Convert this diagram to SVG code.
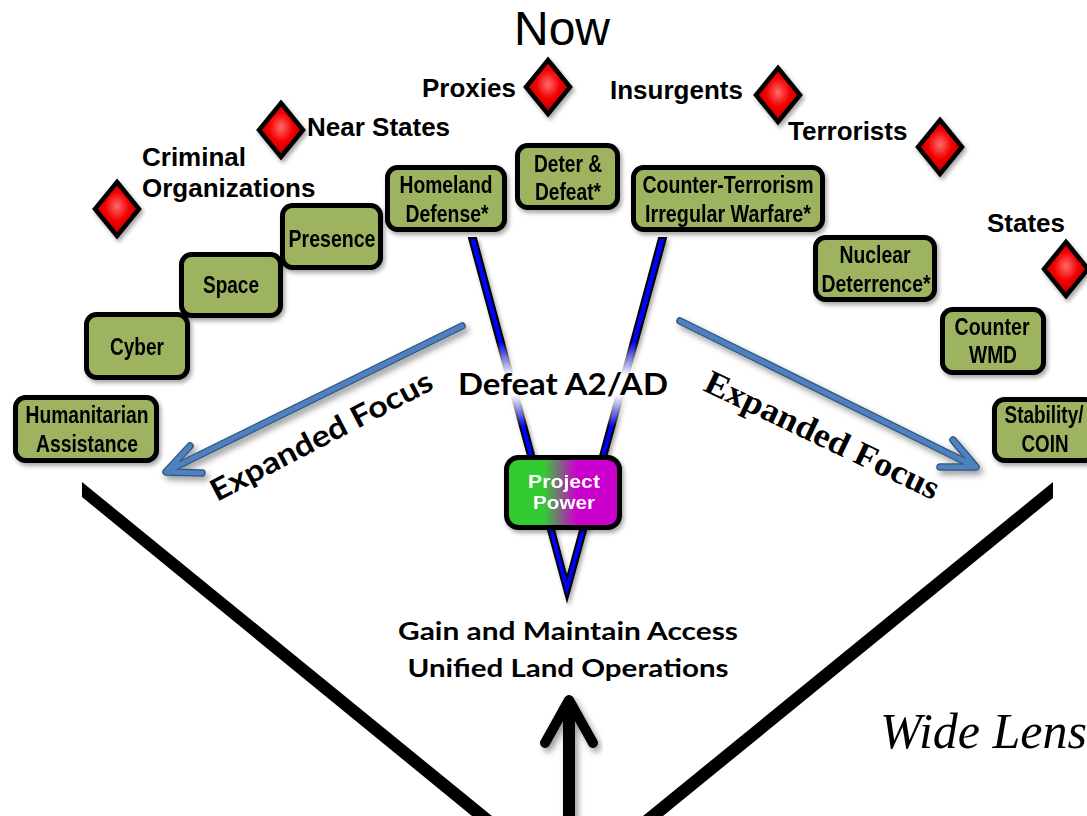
<svg xmlns="http://www.w3.org/2000/svg" width="1087" height="816" viewBox="0 0 1087 816">
<defs>
<style>
.box rect{fill:#9db35f;stroke:#000;stroke-width:5}
.bt{font-family:"Liberation Sans Narrow","Liberation Sans",Arial,sans-serif;font-weight:bold;font-size:23px;fill:#000;text-anchor:middle}
.lab{font-family:"Liberation Sans",Arial,sans-serif;font-weight:bold;font-size:26px;fill:#000}
.cal{font-family:Lato,"Open Sans",sans-serif;font-weight:bold;fill:#000}
.dia{fill:url(#red);stroke:#000;stroke-width:4.5;stroke-linejoin:miter}
.blue{fill:none;stroke:#4f81bd;stroke-width:5;stroke-linecap:round;stroke-linejoin:round}
.blueo{fill:none;stroke:#2f5584;stroke-width:7.5;stroke-linecap:round;stroke-linejoin:round}
</style>
<filter id="sh" x="-20%" y="-20%" width="140%" height="140%"><feDropShadow dx="2" dy="3" stdDeviation="2" flood-color="#000" flood-opacity="0.35"/></filter>
<filter id="sh2" x="-20%" y="-20%" width="140%" height="140%"><feDropShadow dx="3" dy="4" stdDeviation="3" flood-color="#000" flood-opacity="0.4"/></filter>
<radialGradient id="red" cx="0.5" cy="0.45" r="0.6"><stop offset="0" stop-color="#ff6a6a"/><stop offset="0.45" stop-color="#f20000"/><stop offset="1" stop-color="#a80000"/></radialGradient>
<linearGradient id="pp" x1="0" y1="0" x2="1" y2="0"><stop offset="0" stop-color="#33cc33"/><stop offset="0.33" stop-color="#33cc33"/><stop offset="0.62" stop-color="#cc00cc"/><stop offset="1" stop-color="#cc00cc"/></linearGradient>
<linearGradient id="fade" x1="0" y1="0" x2="0" y2="1"><stop offset="0" stop-color="#fff" stop-opacity="0"/><stop offset="0.4" stop-color="#fff" stop-opacity="1"/><stop offset="0.62" stop-color="#fff" stop-opacity="1"/><stop offset="1" stop-color="#fff" stop-opacity="0"/></linearGradient>
<linearGradient id="bar" x1="0" y1="0" x2="1" y2="0"><stop offset="0" stop-color="#221e12"/><stop offset="0.5" stop-color="#2e2a1f"/><stop offset="1" stop-color="#221e12"/></linearGradient>
<polygon id="dshape" points="0,-27 22,0 0,27 -22,0"/>
</defs>
<rect width="1087" height="816" fill="#fff"/>

<text x="562" y="45" font-family="Liberation Sans, Arial, sans-serif" font-size="48" text-anchor="middle" fill="#000">Now</text>

<g id="connectors">
  <polygon points="82,482 82,497 472,816 492,816" fill="#000"/>
  <polygon points="1053,482 1053,498 663,816 643,816" fill="#000"/>
  <line x1="316" y1="604" x2="843" y2="604" stroke="url(#bar)" stroke-width="8"/>
  <g filter="url(#sh)">
    <polygon points="469,238 476,238 567,578 659,238 666,238 567,600" fill="#0000ff" stroke="#000" stroke-width="2" stroke-linejoin="miter"/>
  </g>
  <rect x="478" y="342" width="185" height="85" fill="url(#fade)"/>
  <g filter="url(#sh2)">
    <line class="blueo" x1="462" y1="326" x2="167" y2="471"/>
    <polyline class="blueo" points="190,446 166,472 202,473"/>
    <line class="blue" x1="462" y1="326" x2="167" y2="471"/>
    <polyline class="blue" points="190,446 166,472 202,473"/>
    <line class="blueo" x1="680" y1="321" x2="974" y2="466"/>
    <polyline class="blueo" points="953,440 976,467 940,467"/>
    <line class="blue" x1="680" y1="321" x2="974" y2="466"/>
    <polyline class="blue" points="953,440 976,467 940,467"/>
  </g>
  <g filter="url(#sh2)">
    <line x1="569" y1="702" x2="569" y2="820" stroke="#000" stroke-width="12"/>
    <polyline points="545,743 569,700 593,743" fill="none" stroke="#000" stroke-width="10" stroke-linecap="round" stroke-linejoin="round"/>
  </g>
</g>

<g id="threats">
  <g id="d-criminal" filter="url(#sh)"><use href="#dshape" class="dia" transform="translate(117,209)"/></g>
  <g id="d-near" filter="url(#sh)"><use href="#dshape" class="dia" transform="translate(281,130)"/></g>
  <g id="d-proxies" filter="url(#sh)"><use href="#dshape" class="dia" transform="translate(548,87)"/></g>
  <g id="d-insurgents" filter="url(#sh)"><use href="#dshape" class="dia" transform="translate(778,95)"/></g>
  <g id="d-terrorists" filter="url(#sh)"><use href="#dshape" class="dia" transform="translate(940,147)"/></g>
  <g id="d-states" filter="url(#sh)"><use href="#dshape" class="dia" transform="translate(1066,269)"/></g>
  <text class="lab" x="142" y="166">Criminal</text>
  <text class="lab" x="142" y="197">Organizations</text>
  <text class="lab" x="307" y="136">Near States</text>
  <text class="lab" x="422" y="97">Proxies</text>
  <text class="lab" x="610" y="99">Insurgents</text>
  <text class="lab" x="788" y="140">Terrorists</text>
  <text class="lab" x="987" y="232">States</text>
</g>

<g id="n-space" class="box" filter="url(#sh)"><rect x="181.5" y="254.5" width="99" height="61" rx="10"/><text class="bt" x="231" y="293" textLength="56" lengthAdjust="spacingAndGlyphs">Space</text></g>
<g id="n-cyber" class="box" filter="url(#sh)"><rect x="86.5" y="314.5" width="101" height="63" rx="10"/><text class="bt" x="137" y="355" textLength="54" lengthAdjust="spacingAndGlyphs">Cyber</text></g>
<g id="n-presence" class="box" filter="url(#sh)"><rect x="282.5" y="205.5" width="98" height="62" rx="10"/><text class="bt" x="332" y="247" textLength="87" lengthAdjust="spacingAndGlyphs">Presence</text></g>
<g id="n-homeland" class="box" filter="url(#sh)"><rect x="387.5" y="167.5" width="117" height="62" rx="10"/><text class="bt" x="446" y="193" textLength="93" lengthAdjust="spacingAndGlyphs">Homeland</text><text class="bt" x="447" y="222" textLength="83" lengthAdjust="spacingAndGlyphs">Defense*</text></g>
<g id="n-deter" class="box" filter="url(#sh)"><rect x="517.5" y="145.5" width="100" height="62" rx="10"/><text class="bt" x="568" y="172" textLength="68" lengthAdjust="spacingAndGlyphs">Deter &amp;</text><text class="bt" x="568" y="200" textLength="66" lengthAdjust="spacingAndGlyphs">Defeat*</text></g>
<g id="n-ct" class="box" filter="url(#sh)"><rect x="633.5" y="167.5" width="189" height="62" rx="10"/><text class="bt" x="728" y="193" font-size="21" textLength="171" lengthAdjust="spacingAndGlyphs">Counter-Terrorism</text><text class="bt" x="728" y="222" font-size="21" textLength="166" lengthAdjust="spacingAndGlyphs">Irregular Warfare*</text></g>
<g id="n-nuclear" class="box" filter="url(#sh)"><rect x="815.5" y="237.5" width="119" height="62" rx="10"/><text class="bt" x="875" y="263" textLength="71" lengthAdjust="spacingAndGlyphs">Nuclear</text><text class="bt" x="876" y="292" textLength="109" lengthAdjust="spacingAndGlyphs">Deterrence*</text></g>
<g id="n-wmd" class="box" filter="url(#sh)"><rect x="942.5" y="309.5" width="101" height="63" rx="10"/><text class="bt" x="992" y="335" textLength="75" lengthAdjust="spacingAndGlyphs">Counter</text><text class="bt" x="993" y="363" textLength="48" lengthAdjust="spacingAndGlyphs">WMD</text></g>
<g id="n-stability" class="box" filter="url(#sh)"><rect x="994.5" y="399.5" width="101" height="61" rx="10"/><text class="bt" x="1044" y="423" font-size="22" textLength="79" lengthAdjust="spacingAndGlyphs">Stability/</text><text class="bt" x="1045" y="452" font-size="22" textLength="47" lengthAdjust="spacingAndGlyphs">COIN</text></g>
<g id="n-humanitarian" class="box" filter="url(#sh)"><rect x="15.5" y="397.5" width="141" height="63" rx="10"/><text class="bt" x="87" y="423" font-size="22" textLength="123" lengthAdjust="spacingAndGlyphs">Humanitarian</text><text class="bt" x="87" y="452" font-size="22" textLength="102" lengthAdjust="spacingAndGlyphs">Assistance</text></g>

<g id="n-project" filter="url(#sh)"><rect x="506.5" y="457.5" width="113" height="70" rx="12" fill="url(#pp)" stroke="#000" stroke-width="5"/><text x="564" y="488" font-family="Liberation Sans, Arial, sans-serif" font-weight="bold" font-size="19" fill="#fff" text-anchor="middle" textLength="72" lengthAdjust="spacingAndGlyphs">Project</text><text x="564" y="509" font-family="Liberation Sans, Arial, sans-serif" font-weight="bold" font-size="19" fill="#fff" text-anchor="middle" textLength="62" lengthAdjust="spacingAndGlyphs">Power</text></g>

<g id="labels">
  <text class="cal" x="563" y="395" font-size="30" text-anchor="middle" textLength="210" lengthAdjust="spacingAndGlyphs">Defeat A2/AD</text>
  <text class="cal" transform="translate(217,502) rotate(-27.5)" font-size="30" textLength="246" lengthAdjust="spacingAndGlyphs">Expanded Focus</text>
  <text transform="translate(702,390) rotate(25.5)" font-family="Liberation Serif, 'Times New Roman', serif" font-weight="bold" font-size="34" fill="#000" textLength="256" lengthAdjust="spacingAndGlyphs">Expanded Focus</text>
  <text class="cal" x="568" y="640" font-size="24" text-anchor="middle" textLength="340" lengthAdjust="spacingAndGlyphs">Gain and Maintain Access</text>
  <text class="cal" x="568" y="677" font-size="24" text-anchor="middle" textLength="321" lengthAdjust="spacingAndGlyphs">Unified Land Operations</text>
  <text x="880" y="748" font-family="Liberation Serif, 'Times New Roman', serif" font-style="italic" font-size="50" fill="#000">Wide Lens</text>
</g>
</svg>
